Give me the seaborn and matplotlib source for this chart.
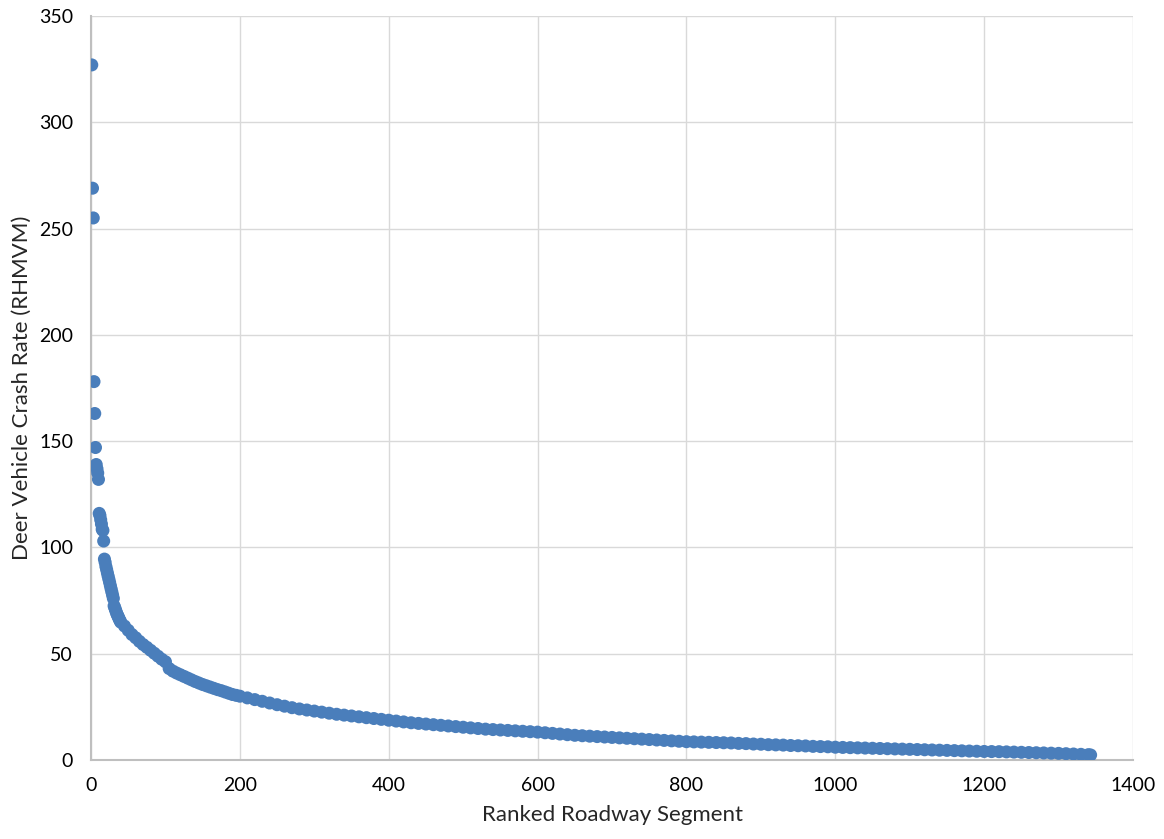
import pandas as pd
import matplotlib.pyplot as plt
import seaborn as sns

# crash rates, ranked high to low
# ranks 1-40, one value per segment
top_rates = [327, 269, 255, 178, 163, 147, 139, 137, 135, 132,
             116, 115, 113, 111, 108.5, 108, 103, 94.5, 93, 91,
             89.5, 88, 86.5, 85, 83.5, 82, 80.5, 79, 77.5, 76,
             72.5, 71.5, 70.5, 69.5, 68.5, 67.8, 67, 66.2, 65.5, 64.8]
# ranks 45-200, every 5th segment
mid_rates = [63.0, 61.0, 59.0, 57.5, 55.8, 54.3, 53.0, 51.6, 50.2, 48.8,
             47.4, 46.2, 43.0, 41.8, 40.9, 40.1, 39.3, 38.5, 37.7, 36.9,
             36.2, 35.5, 34.9, 34.3, 33.7, 33.1, 32.6, 32.0, 31.4, 30.8,
             30.4, 30.0]
# ranks 210-1340, every 10th segment, then the last one (1343)
tail_rates = [29.2, 28.4, 27.6, 26.8, 26.0, 25.3, 24.6, 24.0, 23.5, 23.0,
              22.5, 22.0, 21.5, 21.1, 20.7, 20.3, 19.9, 19.5, 19.1, 18.7,
              18.3, 17.9, 17.5, 17.2, 16.9, 16.6, 16.3, 16.0, 15.7, 15.4,
              15.1, 14.8, 14.5, 14.3, 14.1, 13.9, 13.7, 13.5, 13.3, 13.1,
              12.8, 12.5, 12.2, 11.9, 11.6, 11.4, 11.2, 11.0, 10.8, 10.6,
              10.4, 10.2, 10.0, 9.8, 9.6, 9.4, 9.2, 9.0, 8.8, 8.6,
              8.5, 8.4, 8.3, 8.2, 8.1, 8.0, 7.8, 7.7, 7.5, 7.4,
              7.2, 7.1, 7.0, 6.8, 6.7, 6.6, 6.4, 6.3, 6.2, 6.0,
              5.9, 5.8, 5.7, 5.6, 5.5, 5.4, 5.3, 5.2, 5.1, 5.0,
              4.9, 4.8, 4.7, 4.6, 4.5, 4.4, 4.3, 4.2, 4.1, 4.0,
              3.95, 3.9, 3.8, 3.7, 3.6, 3.5, 3.4, 3.3, 3.2, 3.1,
              2.95, 2.8, 2.65, 2.5, 2.35]

ranks = (list(range(1, 41)) + list(range(45, 201, 5))
         + list(range(210, 1341, 10)) + [1343])
rates = top_rates + mid_rates + tail_rates

x_ticks = [0, 200, 400, 600, 800, 1000, 1200, 1400]
y_ticks = [0, 50, 100, 150, 200, 250, 300, 350]

df = pd.DataFrame({'rank': ranks, 'rate': rates})

sns.set_style('white')
plt.rcParams['font.family'] = ['Lato', 'DejaVu Sans']

fig = plt.figure(figsize=(11.64, 8.39), dpi=100)
ax = fig.add_axes([0.0782, 0.0942, 0.8952, 0.8867])

sns.scatterplot(data=df, x='rank', y='rate', ax=ax, color='#4A7EBB',
                s=88, edgecolor='none', linewidth=0, zorder=3)

ax.set_xlim(0, 1400)
ax.set_ylim(0, 350)
ax.set_xticks(x_ticks)
ax.set_yticks(y_ticks)
ax.grid(True, color='#D9D9D9', linewidth=1)
ax.set_axisbelow(True)

for side in ['top', 'right']:
    ax.spines[side].set_visible(False)
for side in ['left', 'bottom']:
    ax.spines[side].set_color('#BFBFBF')
    ax.spines[side].set_linewidth(1.5)

ax.tick_params(axis='x', length=0, labelsize=14, pad=12, colors='#000000')
ax.tick_params(axis='y', length=0, labelsize=14, pad=13, colors='#000000')
ax.set_xlabel('Ranked Roadway Segment', fontsize=16, labelpad=8)
ax.set_ylabel('Deer Vehicle Crash Rate (RHMVM)', fontsize=16, labelpad=5)

fig.savefig('out.png', dpi=100)
